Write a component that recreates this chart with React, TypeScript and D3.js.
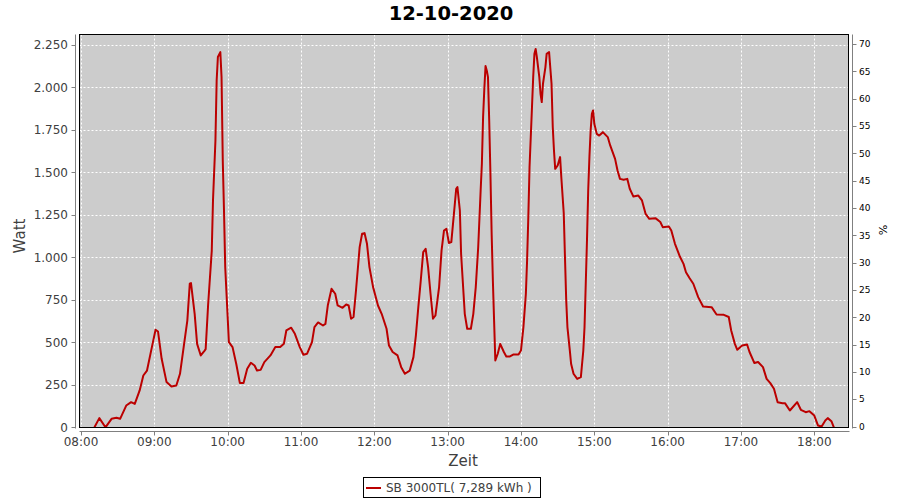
import React from 'react';
import * as d3 from 'd3';

const title = '12-10-2020';
const seriesName = 'SB 3000TL( 7,289 kWh )';

const times = [
  '08:11','08:15','08:20','08:25','08:29','08:32','08:37','08:41','08:44','08:48','08:51','08:54','08:58',
  '09:01','09:03','09:06','09:10','09:14','09:18','09:21','09:24','09:27','09:29','09:30','09:33','09:35','09:38','09:41',
  '09:42','09:44','09:47','09:48','09:50','09:51','09:52','09:54','09:55','09:56','09:57','09:58',
  '10:00','10:01','10:04','10:07','10:10','10:13','10:16','10:19','10:22','10:24','10:27','10:30','10:35','10:39','10:43','10:46','10:48','10:52','10:55','10:59',
  '11:02','11:05','11:09','11:11','11:14','11:18','11:20','11:22','11:25','11:28','11:30','11:34','11:37','11:39','11:41','11:43','11:45','11:48','11:50','11:52','11:54','11:56','11:59',
  '12:03','12:06','12:10','12:12','12:15','12:19','12:22','12:25','12:29','12:32','12:34','12:36','12:38','12:40','12:42','12:44','12:46','12:48','12:50','12:53','12:55','12:57','12:59',
  '13:01','13:03','13:05','13:07','13:08','13:10','13:11','13:13','13:14','13:16','13:19','13:21','13:23','13:25','13:27','13:28','13:29','13:30','13:31','13:32','13:33','13:34','13:35','13:36','13:37','13:38','13:39','13:41','13:43','13:46','13:48','13:51','13:54','13:58',
  '14:00','14:02','14:04','14:05','14:06','14:07','14:09','14:10','14:11','14:12','14:13','14:15','14:16','14:17','14:18','14:20','14:21','14:23','14:25','14:26','14:27','14:28','14:30','14:32','14:33','14:35','14:36','14:37','14:38','14:40','14:41','14:43','14:46','14:49','14:51','14:52','14:53','14:54','14:55','14:56','14:57','14:58','14:59',
  '15:00','15:02','15:04','15:07','15:11','15:13','15:17','15:19','15:21','15:24','15:27','15:29','15:32','15:36','15:39','15:42','15:45','15:50','15:54','15:56',
  '16:01','16:03','16:06','16:10','16:13','16:15','16:18','16:21','16:25','16:29','16:36','16:40','16:46','16:50','16:52','16:55','16:57',
  '17:01','17:05','17:07','17:11','17:14','17:18','17:21','17:24','17:27','17:30','17:34','17:36','17:40','17:46','17:49','17:53','17:56',
  '18:00','18:03','18:06','18:09','18:11','18:14','18:16'
];

const watts = [
  0,54,0,50,56,50,128,148,138,217,305,334,472,
  574,564,403,266,240,246,315,472,628,845,849,668,491,423,450,
  460,720,1040,1335,1688,2041,2179,2208,2061,1570,1276,943,
  649,501,472,374,260,260,344,380,364,334,338,384,423,472,472,491,570,586,550,472,
  427,433,501,590,617,599,609,720,815,786,717,703,723,717,639,649,805,1060,1139,1143,1080,943,825,
  717,668,580,481,443,423,354,315,334,413,540,707,864,1031,1050,943,786,639,658,825,1040,1158,1168,
  1085,1090,1246,1404,1414,1276,1021,786,668,580,580,668,825,1060,1394,1551,1826,1990,2126,2100,2061,1806,1492,1139,864,628,393,433,491,443,417,417,429,429,
  452,590,786,982,1237,1531,1884,2061,2198,2227,2179,2061,1963,1914,2022,2120,2198,2208,2022,1767,1629,1521,1541,1590,1472,1260,1000,750,590,450,374,315,285,295,452,590,845,1099,1394,1590,1747,1845,1865,
  1786,1727,1717,1737,1708,1659,1580,1511,1462,1457,1462,1404,1358,1364,1335,1256,1227,1231,1208,1178,
  1182,1158,1080,1005,962,913,877,845,766,711,707,664,662,649,570,491,456,
  481,487,443,378,384,354,285,260,227,148,142,142,99,148,103,89,95,
  69,11,5,40,54,36,0
];

const wattTicks = [0, 250, 500, 750, 1000, 1250, 1500, 1750, 2000, 2250];
const pctTicks = [0, 5, 10, 15, 20, 25, 30, 35, 40, 45, 50, 55, 60, 65, 70];
const hourTicks = ['08:00','09:00','10:00','11:00','12:00','13:00','14:00','15:00','16:00','17:00','18:00'];

const parse = d3.timeParse('%H:%M');
const de = d3.formatLocale({ decimal: ',', thousands: '.', grouping: [3], currency: ['', '€'] });
const fmtW = de.format(',d');

export default function App() {
  const W = 900, H = 500;
  const L = 79.5, R = 848.5, T = 34.5, B = 427.5;
  const x = d3.scaleTime().domain([parse('08:00')!, parse('18:00')!]).range([81, 814.3]);
  const y = d3.scaleLinear().domain([0, 2250]).range([427.3, 45]);
  const yr = d3.scaleLinear().domain([0, 70]).range([426.5, 44]);
  const data = times.map((t, i) => ({ t: parse(t)!, v: watts[i] }));
  const line = d3.line<{ t: Date; v: number }>().x(d => x(d.t)).y(d => y(d.v));
  const font = '"DejaVu Sans", sans-serif';
  const grey = '#404040';
  return (
    <svg width={W} height={H} style={{ position: 'absolute', left: 0, top: 0, background: '#fff' }} fontFamily={font}>
      <defs>
        <clipPath id="plotclip"><rect x={L} y={T} width={R - L} height={B - T} /></clipPath>
      </defs>
      <text x={451} y={20} textAnchor="middle" fontSize={19.5} fontWeight="bold" fill="#000">{title}</text>
      <rect x={L} y={T} width={R - L} height={B - T} fill="#cccccc" />
      {hourTicks.map(h => (
        <line key={'gx' + h} x1={Math.round(x(parse(h)!)) + 0.5} x2={Math.round(x(parse(h)!)) + 0.5} y1={T} y2={B} stroke="#fff" strokeDasharray="2,2" />
      ))}
      {wattTicks.map(v => (
        <line key={'gy' + v} x1={L} x2={R} y1={Math.round(y(v)) + 0.5} y2={Math.round(y(v)) + 0.5} stroke="#fff" strokeDasharray="2,2" />
      ))}
      <g clipPath="url(#plotclip)">
        <path d={line(data) || ''} fill="none" stroke="#bb0000" strokeWidth={2} strokeLinejoin="round" />
      </g>
      <rect x={L} y={T} width={R - L} height={B - T} fill="none" stroke="#000" strokeWidth={1} />
      {/* left axis */}
      <line x1={75.5} x2={75.5} y1={T} y2={B + 1} stroke="#808080" />
      {wattTicks.map(v => (
        <g key={'ly' + v}>
          <line x1={71.5} x2={75.5} y1={Math.round(y(v)) + 0.5} y2={Math.round(y(v)) + 0.5} stroke="#808080" />
          <text x={68} y={y(v) + 4.3} textAnchor="end" fontSize={12} fill={grey}>{fmtW(v)}</text>
        </g>
      ))}
      <text transform={`translate(25,236) rotate(-90)`} textAnchor="middle" fontSize={15} fill={grey}>Watt</text>
      {/* bottom axis */}
      <line x1={L} x2={R + 1} y1={431.5} y2={431.5} stroke="#808080" />
      {hourTicks.map(h => (
        <g key={'bx' + h}>
          <line x1={Math.round(x(parse(h)!)) + 0.5} x2={Math.round(x(parse(h)!)) + 0.5} y1={431.5} y2={435.5} stroke="#808080" />
          <text x={x(parse(h)!)} y={446} textAnchor="middle" fontSize={12} fill={grey}>{h}</text>
        </g>
      ))}
      <text x={463} y={466} textAnchor="middle" fontSize={15} fill={grey}>Zeit</text>
      {/* right axis */}
      <line x1={852.5} x2={852.5} y1={T} y2={B + 1} stroke="#808080" />
      {pctTicks.map(v => (
        <g key={'ry' + v}>
          <line x1={852.5} x2={856.5} y1={Math.round(yr(v)) + 0.5} y2={Math.round(yr(v)) + 0.5} stroke="#808080" />
          <text x={859} y={yr(v) + 3.3} fontSize={9} fill="#000">{v}</text>
        </g>
      ))}
      <text transform={`translate(879,230) rotate(90)`} textAnchor="middle" fontSize={11} fill="#000">%</text>
      {/* legend */}
      <rect x={363.5} y={477.5} width={177} height={20} fill="#fff" stroke="#000" />
      <line x1={366} x2={381} y1={488} y2={488} stroke="#bb0000" strokeWidth={2} />
      <text x={386} y={492} fontSize={12} fill={grey}>{seriesName}</text>
    </svg>
  );
}
